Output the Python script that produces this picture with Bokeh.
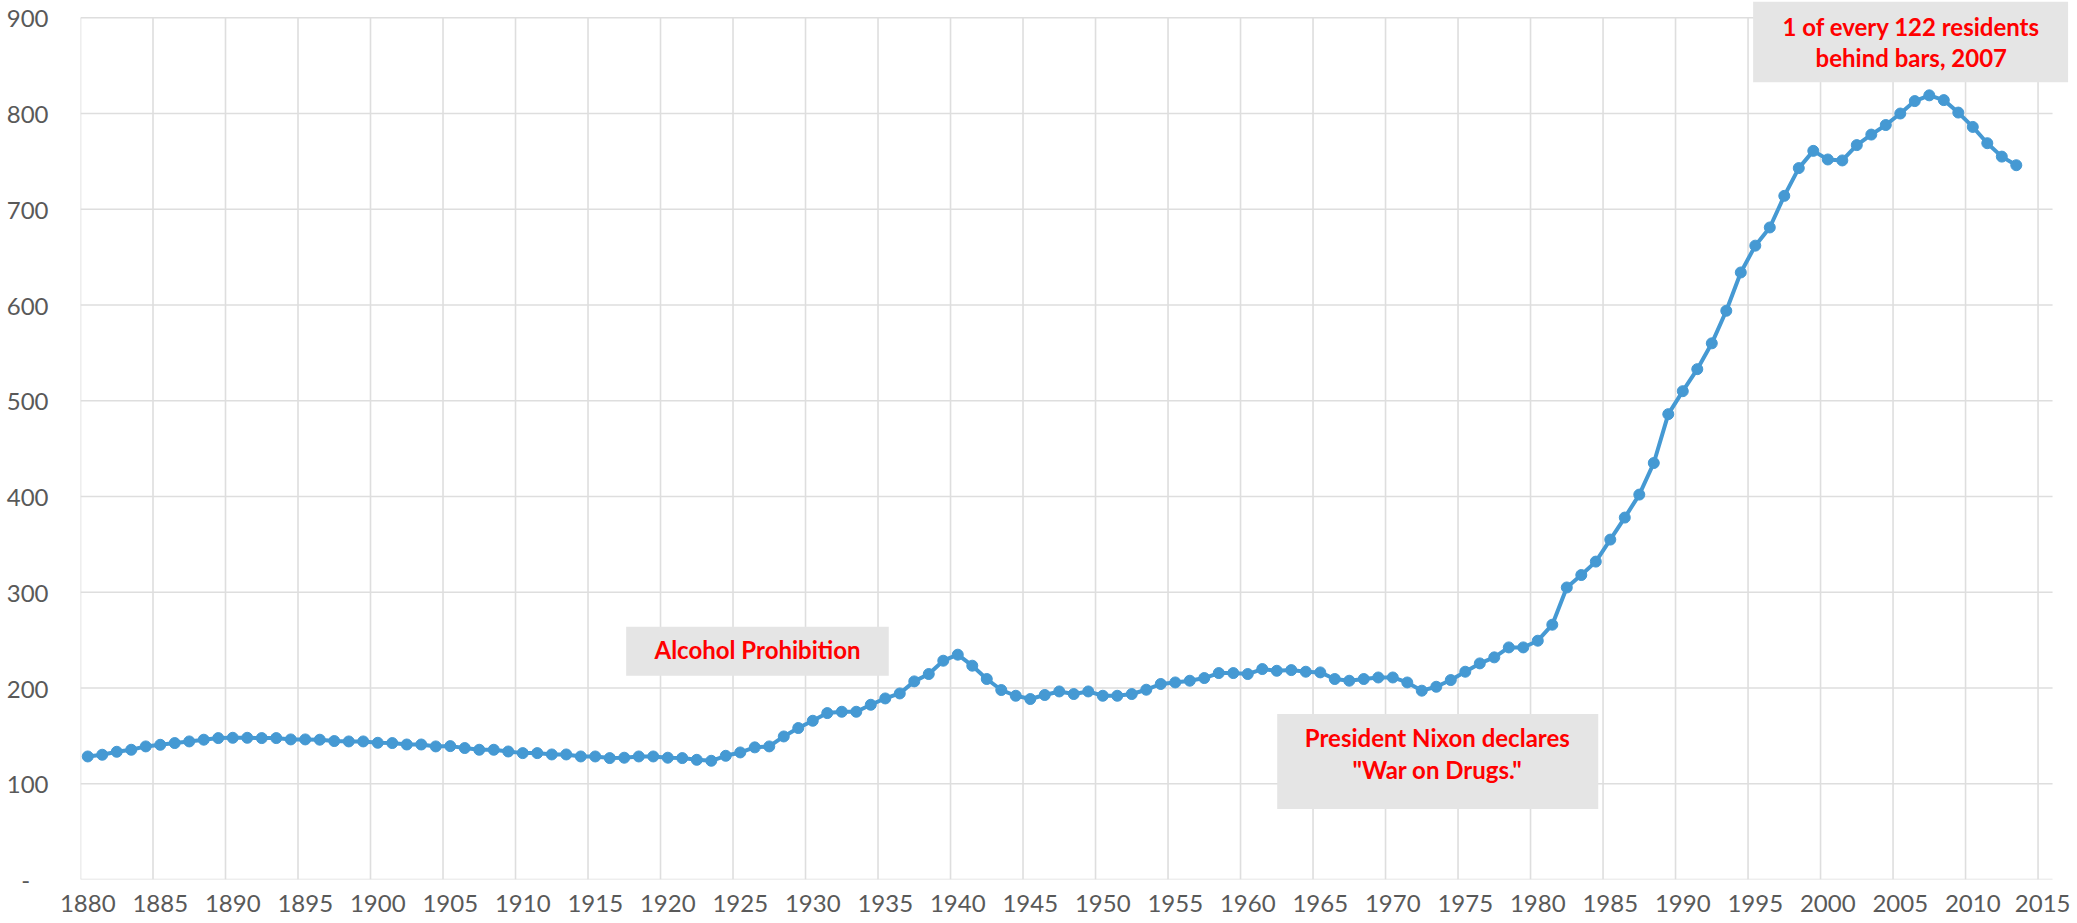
from bokeh.plotting import figure
from bokeh.models import Range1d, FixedTicker, BoxAnnotation, Label, ColumnDataSource
from bokeh.embed import file_html
from bokeh.resources import INLINE

# ---- data ----
years = list(range(1880, 2014))
rate = [
    128.5, 130.3, 133.4, 135.5, 139.0, 140.7, 142.5, 144.2, 146.0, 147.7,   # 1880-1889
    148.0, 148.0, 147.7, 147.7, 146.3, 146.3, 146.0, 144.6, 144.2, 144.2,   # 1890-1899
    142.8, 142.5, 141.0, 141.0, 139.0, 139.3, 137.3, 135.5, 135.5, 133.7,   # 1900-1909
    132.0, 132.0, 130.6, 130.6, 128.5, 128.5, 126.8, 127.2, 128.5, 128.5,   # 1910-1919
    127.2, 126.8, 125.0, 124.0, 129.2, 132.7, 138.0, 139.0, 149.4, 158.2,   # 1920-1929
    165.8, 173.8, 175.2, 175.2, 182.5, 189.1, 194.3, 206.9, 214.6, 228.5,   # 1930-1939
    234.8, 223.3, 209.4, 197.9, 191.9, 188.5, 192.7, 196.4, 193.7, 196.4,   # 1940-1949
    191.9, 191.9, 193.7, 198.2, 204.2, 205.8, 207.6, 210.4, 215.6, 215.6,   # 1950-1959
    214.6, 219.8, 218.0, 218.7, 217.0, 216.3, 209.4, 207.6, 209.4, 211.0,   # 1960-1969
    211.0, 205.8, 197.2, 201.3, 208.3, 217.0, 225.7, 232.0, 242.4, 242.4,   # 1970-1979
    249.4, 266.1, 305.0, 318.0, 332.0, 355.0, 378.0, 402.0, 435.0, 486.0,   # 1980-1989
    510.0, 533.0, 560.0, 594.0, 634.0, 662.0, 681.0, 714.0, 743.0, 761.0,   # 1990-1999
    752.0, 751.0, 767.0, 778.0, 788.0, 800.0, 813.0, 819.0, 814.0, 801.0,   # 2000-2009
    786.0, 769.0, 755.0, 746.0,                                             # 2010-2013
]
x_tick_years = list(range(1880, 2016, 5))
y_ticks = list(range(0, 901, 100))

# annotation boxes: (left, right, bottom, top) + text lines (text, x, y)
notes = [
    dict(box=(1917.13, 1935.24, 212.8, 264.0),
         lines=[("Alcohol Prohibition", 1926.19, 239.7)]),
    dict(box=(1962.03, 1984.17, 73.6, 172.8),
         lines=[("President Nixon declares", 1973.07, 148.4),
                ("\"War on Drugs.\"", 1973.07, 115.3)]),
    dict(box=(1994.85, 2016.58, 832.7, 917.0),
         lines=[("1 of every 122 residents", 2005.76, 890.9),
                ("behind bars, 2007", 2005.76, 858.8)]),
]

LINE_COLOR = "#4599d3"
GRID_COLOR = "#dedede"
TEXT_COLOR = "#595959"
NOTE_COLOR = "#ff0000"
BOX_COLOR = "#e5e5e5"
FONT = "Lato"
NOTE_SIZE = "24px"

# category axis: each year occupies one slot; grid lines sit on slot edges
cat_start = x_tick_years[0] - 0.5
cat_end = x_tick_years[-1] + 0.5

p = figure(width=2070, height=923,
           x_range=Range1d(cat_start, 2016.6), y_range=Range1d(0, 917),
           output_backend="svg", toolbar_location=None,
           min_border_left=80, min_border_right=2,
           min_border_top=1, min_border_bottom=44)
p.outline_line_color = None
p.background_fill_color = "white"
p.border_fill_color = "white"
p.grid.visible = False

# axes
p.xaxis.ticker = FixedTicker(ticks=x_tick_years)
p.yaxis.ticker = FixedTicker(ticks=y_ticks)
p.yaxis.major_label_overrides = {0: "-\u00a0\u00a0\u00a0"}
for ax in (p.xaxis[0], p.yaxis[0]):
    ax.axis_line_color = None
    ax.major_tick_line_color = None
    ax.minor_tick_line_color = None
    ax.major_tick_out = 0
    ax.major_tick_in = 0
    ax.major_label_text_font = FONT
    ax.major_label_text_font_size = "24px"
    ax.major_label_text_color = TEXT_COLOR
p.xaxis.major_label_standoff = 15
p.yaxis.major_label_standoff = 32

# grid lines drawn from the tick arrays (limited to the chart area)
vx = [t - 0.5 for t in x_tick_years]
p.segment(x0=vx, y0=[y_ticks[0]] * len(vx), x1=vx, y1=[y_ticks[-1]] * len(vx),
          line_color=GRID_COLOR, line_width=1.6)
p.segment(x0=[cat_start] * len(y_ticks), y0=y_ticks,
          x1=[cat_end] * len(y_ticks), y1=y_ticks,
          line_color=GRID_COLOR, line_width=1.6)

src = ColumnDataSource(dict(year=years, rate=rate))
p.line("year", "rate", source=src, line_color=LINE_COLOR, line_width=4)
p.scatter("year", "rate", source=src, size=11, fill_color=LINE_COLOR,
          line_color=LINE_COLOR)

for n in notes:
    l, r, b, t = n["box"]
    p.add_layout(BoxAnnotation(left=l, right=r, bottom=b, top=t,
                               fill_color=BOX_COLOR, fill_alpha=1.0,
                               line_color=None))
    for txt, x, y in n["lines"]:
        p.add_layout(Label(x=x, y=y, text=txt, text_font=FONT,
                           text_font_size=NOTE_SIZE, text_font_style="bold",
                           text_color=NOTE_COLOR, text_align="center",
                           text_baseline="middle"))

open("out.html", "w").write(file_html(p, INLINE))
